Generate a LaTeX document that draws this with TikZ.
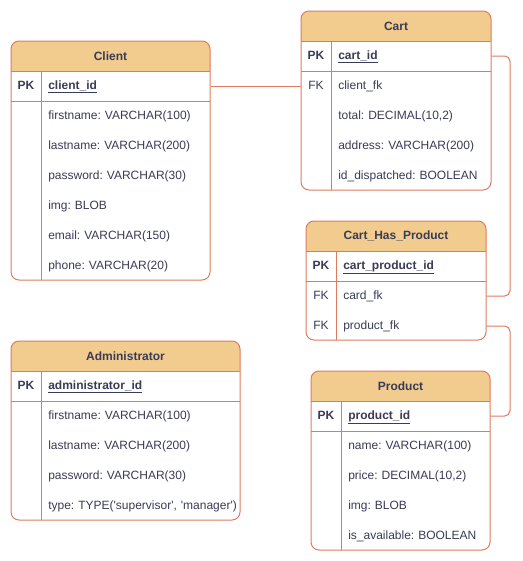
\documentclass[tikz,border=0pt]{standalone}
\usepackage{fontspec}
\setmainfont{Liberation Sans}
\frenchspacing
\hyphenpenalty=10000
\exhyphenpenalty=10000
\definecolor{hdrfill}{HTML}{F2CC8F}
\definecolor{strk}{HTML}{E07A5F}
\definecolor{txt}{HTML}{393C56}
\newcommand\erfield[5]{%
  \pgfmathsetmacro\fw{(#3-#2-37)*0.75}%
  \node[field, text width=\fw pt] (#1) at (#2+37,#4) {#5};%
}
\newcommand\ertable[4]{% L R T B
  \fill[white, rounded corners=6pt] (#1,#3) rectangle (#2,#4);
  \fill[hdrfill, rounded corners=6pt] (#1,#3+30) -- (#1,#3) -- (#2,#3) [sharp corners] -- (#2,#3+30) -- cycle;
  \draw[tblline] (#1,#3+30) -- (#2,#3+30);
  \draw[tblline] (#1,#3+60) -- (#2,#3+60);
  \draw[tblline] (#1+30,#3+30) -- (#1+30,#4);
  \draw[tblline, rounded corners=6pt] (#1,#3) rectangle (#2,#4);
}
\newcommand\pkname[1]{\textbf{\underline{#1}}}
\begin{document}
\begin{tikzpicture}[x=0.75pt, y=-0.75pt,
  font=\fontsize{9pt}{11pt}\selectfont, text=txt,
  tblline/.style={draw=strk, line width=0.75pt},
  conn/.style={draw=strk, line width=0.75pt, rounded corners=4pt},
  title/.style={font=\fontsize{9pt}{11pt}\selectfont\bfseries, inner sep=0pt},
  field/.style={anchor=west, inner xsep=0pt, inner ysep=0pt, align=left,
    minimum height=22.5pt, text height=6.6pt, text depth=2pt},
  keylbl/.style={inner sep=0pt, minimum width=22.5pt, minimum height=22.5pt,
    text height=6.6pt, text depth=2pt},
  pklbl/.style={keylbl, font=\fontsize{9pt}{11pt}\selectfont\bfseries}]
\useasboundingbox[fill=white] (0,0) rectangle (523,561);

% Client
\ertable{11}{210}{41}{280}
\node[title] (client) at (110.5,56) {Client};
\node[pklbl] (clientpk) at (26,86) {PK};
\erfield{clientid}{11}{210}{86}{\pkname{client\_id}}
\erfield{clientfn}{11}{210}{116}{firstname: VARCHAR(100)}
\erfield{clientln}{11}{210}{146}{lastname: VARCHAR(200)}
\erfield{clientpw}{11}{210}{176}{password: VARCHAR(30)}
\erfield{clientimg}{11}{210}{206}{img: BLOB}
\erfield{clientem}{11}{210}{236}{email: VARCHAR(150)}
\erfield{clientph}{11}{210}{266}{phone: VARCHAR(20)}

% Cart
\ertable{301}{491}{11}{190}
\node[title] (cart) at (396,26) {Cart};
\node[pklbl] (cartpk) at (316,56) {PK};
\erfield{cartid}{301}{491}{56}{\pkname{cart\_id}}
\node[keylbl] (cartfkkey) at (316,86) {FK};
\erfield{cartfk}{301}{491}{86}{client\_fk}
\erfield{carttot}{301}{491}{116}{total: DECIMAL(10,2)}
\erfield{cartaddr}{301}{491}{146}{address: VARCHAR(200)}
\erfield{cartdisp}{301}{491}{176}{id\_dispatched: BOOLEAN}

% Cart_Has_Product
\ertable{306}{486}{221}{340}
\node[title] (chp) at (396,236) {Cart\_Has\_Product};
\node[pklbl] (chppk) at (321,266) {PK};
\erfield{chpid}{306}{486}{266}{\pkname{cart\_product\_id}}
\node[keylbl] (chpfk1) at (321,296) {FK};
\erfield{chpcard}{306}{486}{296}{card\_fk}
\node[keylbl] (chpfk2) at (321,326) {FK};
\erfield{chpprod}{306}{486}{326}{product\_fk}

% Product
\ertable{311}{490}{371}{550}
\node[title] (product) at (400.5,386) {Product};
\node[pklbl] (productpk) at (326,416) {PK};
\erfield{productid}{311}{490}{416}{\pkname{product\_id}}
\erfield{productname}{311}{490}{446}{name: VARCHAR(100)}
\erfield{productprice}{311}{490}{476}{price: DECIMAL(10,2)}
\erfield{productimg}{311}{490}{506}{img: BLOB}
\erfield{productav}{311}{490}{536}{is\_available: BOOLEAN}

% Administrator
\ertable{11}{240}{341}{520}
\node[title] (admin) at (125.5,356) {Administrator};
\node[pklbl] (adminpk) at (26,386) {PK};
\erfield{adminid}{11}{240}{386}{\pkname{administrator\_id}}
\erfield{adminfn}{11}{240}{416}{firstname: VARCHAR(100)}
\erfield{adminln}{11}{240}{446}{lastname: VARCHAR(200)}
\erfield{adminpw}{11}{240}{476}{password: VARCHAR(30)}
\erfield{admintype}{11}{240}{506}{type: TYPE(\textquotesingle supervisor\textquotesingle, \textquotesingle manager\textquotesingle)}

% connectors
\coordinate (bus) at (510,0);
\draw[conn] (clientid.east) -- (cartfkkey.west);
\draw[conn] (cartid.east) -- (cartid.east -| bus) |- (chpcard.east);
\draw[conn] (chpprod.east) -- (chpprod.east -| bus) |- (productid.east);
\end{tikzpicture}
\end{document}
